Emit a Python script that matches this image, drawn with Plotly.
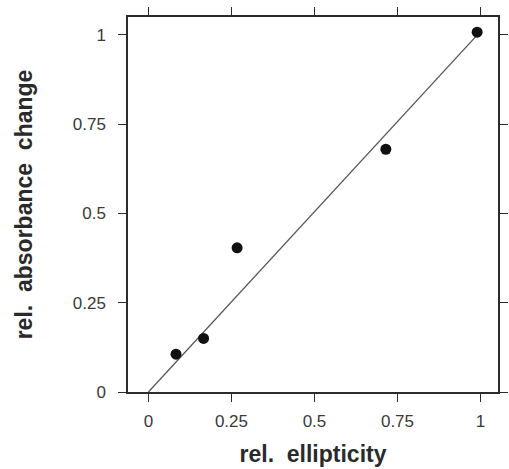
import plotly.graph_objects as go

# measured points
rel_ellipticity = [0.083, 0.166, 0.267, 0.715, 0.990]
rel_absorbance = [0.106, 0.150, 0.404, 0.680, 1.008]

# proportional fit through the origin
fit_slope = 1.01
fit_x = [0.0, 0.985]
fit_y = [fit_slope * v for v in fit_x]

tick_vals = [0, 0.25, 0.5, 0.75, 1]
tick_text = ["0", "0.25", "0.5", "0.75", "1"]

ink = "#2b2b2b"
label_font = dict(family="Liberation Sans, Arial, sans-serif", size=17, color="#3a3a3a")
title_font = dict(family="Liberation Sans, Arial, sans-serif", size=23, color="#2a2a2a")

fig = go.Figure()
fig.add_trace(go.Scatter(
    x=fit_x, y=fit_y, mode="lines",
    line=dict(color="#555555", width=1.3),
    showlegend=False, hoverinfo="skip",
))
fig.add_trace(go.Scatter(
    x=rel_ellipticity, y=rel_absorbance, mode="markers",
    marker=dict(size=11, color="#111111"),
    showlegend=False, cliponaxis=False,
))

axis_common = dict(
    showgrid=False, zeroline=False,
    showline=True, linecolor=ink, linewidth=1.5,
    mirror="ticks", ticks="outside", ticklen=8, tickwidth=1.3, tickcolor=ink,
    tickvals=tick_vals, ticktext=tick_text, tickfont=label_font,
)

fig.update_xaxes(
    range=[-0.0616, 1.0528],
    title=dict(text="<b>rel.  ellipticity</b>", font=title_font, standoff=16),
    ticklabelstandoff=5,
    **axis_common,
)
fig.update_yaxes(
    range=[0, 1.0504],
    title=dict(text="<b>rel.  absorbance  change</b>", font=title_font, standoff=34),
    ticklabelstandoff=9,
    **axis_common,
)

fig.update_layout(
    width=509, height=469,
    margin=dict(l=128, r=1, t=17, b=77),
    paper_bgcolor="white", plot_bgcolor="white",
)

fig.write_html("out.html")
